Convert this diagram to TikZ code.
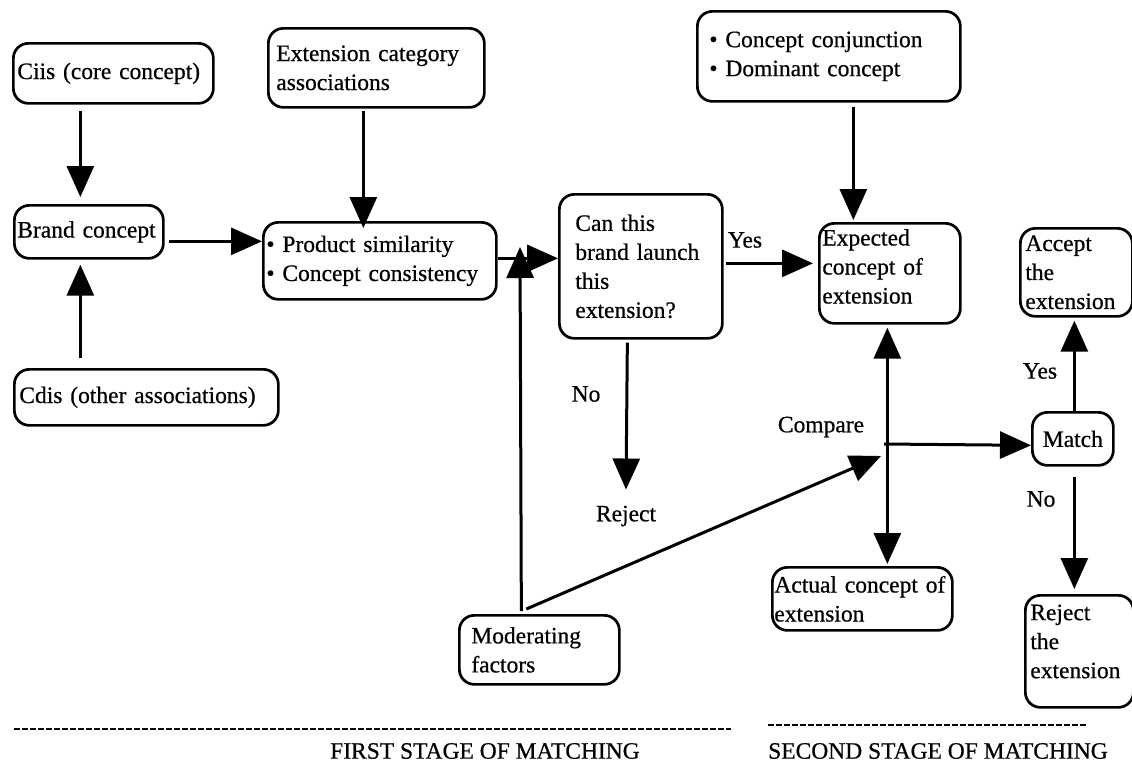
\documentclass[tikz,border=0pt]{standalone}
\usepackage{fontspec}
\setmainfont{Liberation Serif}[FakeBold=0.6]
\usetikzlibrary{arrows.meta}
\begin{document}
\begin{tikzpicture}[x=1pt,y=-1pt,
  every node/.style={font=\fontsize{23.5}{29}\selectfont},
  box/.style={draw, line width=2.7pt, rounded corners=15pt, anchor=north west,
    align=left, inner ysep=0pt},
  lbl/.style={inner sep=0pt},
  arr/.style={line width=3pt, -{Triangle[length=31pt,width=27pt]}},
  biarr/.style={line width=3pt, {Triangle[length=31pt,width=27pt]}-{Triangle[length=31pt,width=27pt]}},
  stageline/.style={line width=1.4pt, dash pattern=on 5.5pt off 2.5pt}]
\useasboundingbox (0,0) rectangle (1132,763);

% boxes
\node[box, minimum width=200pt, minimum height=60pt, inner xsep=4pt, text width=192pt] (ciis) at (12,42) {Ciis (core concept)};
\node[box, minimum width=216pt, minimum height=79pt, inner xsep=8pt, text width=200pt] (ext) at (267,27) {Extension category\\associations};
\node[box, minimum width=263pt, minimum height=90pt, inner xsep=12pt, text width=239pt] (concept) at (696,10) {\textbullet\ Concept conjunction\\\textbullet\ Dominant concept};
\node[box, minimum width=149pt, minimum height=53pt, inner xsep=3pt, text width=143pt] (brand) at (13,204) {Brand concept};
\node[box, minimum width=233pt, minimum height=77pt, inner xsep=3pt, text width=227pt] (product) at (262,221) {\textbullet\ Product similarity\\\textbullet\ Concept consistency};
\node[box, minimum width=163pt, minimum height=144pt, inner xsep=16pt, text width=131pt] (question) at (558,193) {Can this\\brand launch\\this\\extension?};
\node[box, minimum width=141pt, minimum height=100pt, inner xsep=3pt, text width=135pt] (expected) at (818,222) {Expected\\concept of\\extension\\[-15pt]\mbox{}};
\node[box, minimum width=112pt, minimum height=88pt, inner xsep=5pt, text width=102pt] (accept) at (1019,227) {Accept\\the\\extension};
\node[box, minimum width=264pt, minimum height=56pt, inner xsep=5pt, text width=254pt] (cdis) at (13,368) {Cdis (other associations)};
\node[box, minimum width=160pt, minimum height=69pt, inner xsep=12pt, text width=136pt] (moderating) at (458,614) {Moderating\\factors};
\node[box, minimum width=180pt, minimum height=63pt, inner xsep=2pt, text width=176pt] (actual) at (771,566) {Actual concept of\\extension};
\node[box, minimum width=81pt, minimum height=53pt, inner xsep=2pt, align=center] (match) at (1031,411) {Match};
\node[box, minimum width=108pt, minimum height=112pt, inner xsep=5pt, text width=98pt] (rejbox) at (1024,594) {Reject\\the\\extension\\[-9pt]\mbox{}};

% labels
\node[lbl] (yes1) at (745,240) {Yes};
\node[lbl] (no1) at (586,394) {No};
\node[lbl] (rejlbl) at (626,516) {Reject};
\node[lbl] (compare) at (821,427) {Compare};
\node[lbl] (yes2) at (1040,371) {Yes};
\node[lbl] (no2) at (1041,499) {No};
\node[lbl, anchor=west] (stage1) at (330,751) {FIRST STAGE OF MATCHING};
\node[lbl, anchor=west] (stage2) at (768,751) {SECOND STAGE OF MATCHING};

% free ends of connectors
\coordinate (modtip) at (520,247);
\coordinate (junction) at (884,444);
\coordinate (cmptip) at (881,456);

% first stage
\draw[arr] ([xshift=-33pt,yshift=-6pt]ciis.south) -- ([xshift=-8.5pt,yshift=7pt]brand.north);
\draw[arr] ([xshift=-66pt,yshift=10pt]cdis.north) -- ([xshift=-8.5pt,yshift=-5pt]brand.south);
\draw[arr] ([xshift=4pt,yshift=-9.5pt]brand.east) -- ([yshift=19.5pt]product.west);
\draw[arr] ([xshift=-13pt,yshift=-2pt]ext.south) -- ([xshift=-16.5pt,yshift=-7pt]product.north);
\draw[arr] ([yshift=2.5pt]product.east) -- ([yshift=8pt]question.west);
\draw[arr] ([xshift=-18pt,yshift=3pt]moderating.north) -- (modtip);
\draw[arr] ([xshift=-13.5pt,yshift=-3pt]question.south) -- ([yshift=16pt]rejlbl.north);
\draw[arr] ([xshift=2pt,yshift=3pt]question.east) -- ([xshift=-5pt,yshift=10pt]expected.west);

% second stage
\draw[arr] ([xshift=24.5pt,yshift=-4pt]concept.south) -- ([xshift=-36.5pt,yshift=2pt]expected.north);
\draw[biarr] ([xshift=-2.5pt,yshift=-3pt]expected.south) -- ([xshift=25pt,yshift=2pt]actual.north);
\draw[arr] (junction) -- ([yshift=-6.5pt]match.west);
\draw[arr] ([xshift=-13pt,yshift=5pt]moderating.north) -- (cmptip);
\draw[arr] ([xshift=1.5pt]match.north) -- ([xshift=-2pt,yshift=-3pt]accept.south);
\draw[arr] ([xshift=1.5pt,yshift=-10pt]match.south) -- ([xshift=-5pt,yshift=5pt]rejbox.north);

% stage separators
\draw[stageline] (14,729) -- (731,729);
\draw[stageline] (768,725) -- (1086,725);
\end{tikzpicture}
\end{document}
